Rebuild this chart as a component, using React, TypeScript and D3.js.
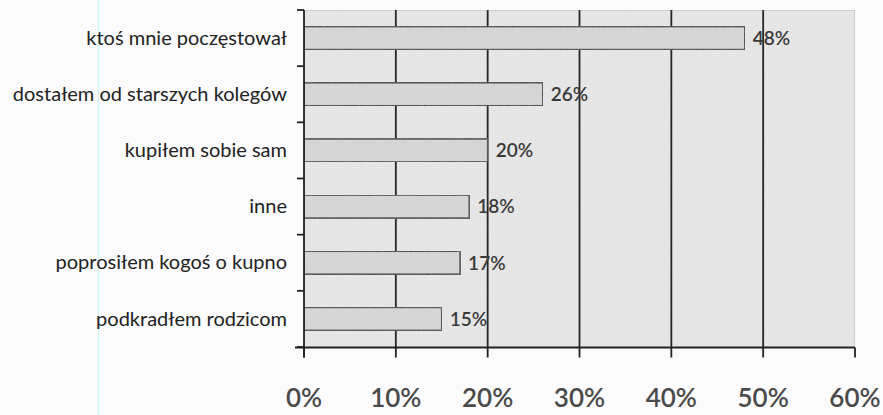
import React from "react";
import * as d3 from "d3";

const categories = [
  "ktoś mnie poczęstował",
  "dostałem od starszych kolegów",
  "kupiłem sobie sam",
  "inne",
  "poprosiłem kogoś o kupno",
  "podkradłem rodzicom",
];
const values = [48, 26, 20, 18, 17, 15];
const xTicks = [0, 10, 20, 30, 40, 50, 60];

const W = 883;
const H = 415;
const FONT = "Lato, 'Open Sans', 'DejaVu Sans', sans-serif";

export default function App() {
  const x = d3.scaleLinear().domain([0, 60]).range([304, 855]);
  const y = d3
    .scaleBand<string>()
    .domain(categories)
    .range([10, 347])
    .paddingInner(0.59)
    .paddingOuter(0.295);
  const step = y.step();
  const top = 10;
  const bottom = 347.5;
  const boundaries = d3.range(categories.length + 1).map((i) => top + i * step);

  return (
    <div style={{ position: "fixed", left: 0, top: 0, width: W, height: H, background: "#fbfbfb" }}>
      <svg width={W} height={H} style={{ display: "block" }}>
        <defs>
          <filter id="grain" x="0" y="0" width="100%" height="100%">
            <feTurbulence type="fractalNoise" baseFrequency="0.9" numOctaves="2" seed="3" result="n" />
            <feColorMatrix
              in="n"
              type="matrix"
              values="0 0 0 0 0.55  0 0 0 0 0.55  0 0 0 0 0.55  0 0 0 0.3 0"
              result="g"
            />
            <feComposite in="g" in2="SourceGraphic" operator="in" result="gc" />
            <feMerge>
              <feMergeNode in="SourceGraphic" />
              <feMergeNode in="gc" />
            </feMerge>
          </filter>
        </defs>
        <rect x={0} y={0} width={W} height={H} fill="#fbfbfb" />
        {/* scan artefact line */}
        <line x1={98.5} x2={98.5} y1={0} y2={H} stroke="#d2f1f3" strokeWidth={1.5} />
        {/* plot area */}
        <rect
          x={x(0)}
          y={top}
          width={x(60) - x(0)}
          height={bottom - top}
          fill="#ebebeb"
          stroke="#b8b8b8"
          strokeWidth={1}
          filter="url(#grain)"
        />
        {/* gridlines */}
        {xTicks.slice(1, -1).map((t) => (
          <line key={t} x1={x(t)} x2={x(t)} y1={top} y2={bottom} stroke="#262626" strokeWidth={1.8} />
        ))}
        {/* bars */}
        {categories.map((c, i) => (
          <rect
            key={c}
            x={x(0)}
            y={y(c)}
            width={x(values[i]) - x(0)}
            height={y.bandwidth()}
            fill="#d9d9d9"
            stroke="#333"
            strokeWidth={1.6}
            filter="url(#grain)"
          />
        ))}
        {/* value labels */}
        {categories.map((c, i) => (
          <text
            key={c}
            x={x(values[i]) + 8}
            y={(y(c) as number) + y.bandwidth() / 2}
            dy="0.36em"
            fontFamily={FONT}
            fontSize={19}
            fontWeight={600}
            fill="#3a3a3a"
          >
            {values[i]}%
          </text>
        ))}
        {/* left axis */}
        <line x1={x(0)} x2={x(0)} y1={top} y2={bottom + 10} stroke="#222" strokeWidth={1.8} />
        {boundaries.map((b, i) => (
          <line key={i} x1={297} x2={x(0)} y1={b} y2={b} stroke="#222" strokeWidth={1.8} />
        ))}
        {/* bottom axis */}
        <line x1={295} x2={x(60)} y1={bottom} y2={bottom} stroke="#222" strokeWidth={1.8} />
        {xTicks.map((t) => (
          <line key={t} x1={x(t)} x2={x(t)} y1={bottom} y2={bottom + 10} stroke="#222" strokeWidth={1.8} />
        ))}
        {/* category labels */}
        {categories.map((c) => (
          <text
            key={c}
            x={287}
            y={(y(c) as number) + y.bandwidth() / 2}
            dy="0.33em"
            textAnchor="end"
            fontFamily={FONT}
            fontSize={20}
            fill="#222"
          >
            {c}
          </text>
        ))}
        {/* x tick labels */}
        {xTicks.map((t) => (
          <text
            key={t}
            x={x(t)}
            y={407}
            textAnchor="middle"
            fontFamily={FONT}
            fontSize={26}
            fontWeight={600}
            fill="#4a4a4a"
          >
            {t}%
          </text>
        ))}
      </svg>
    </div>
  );
}
